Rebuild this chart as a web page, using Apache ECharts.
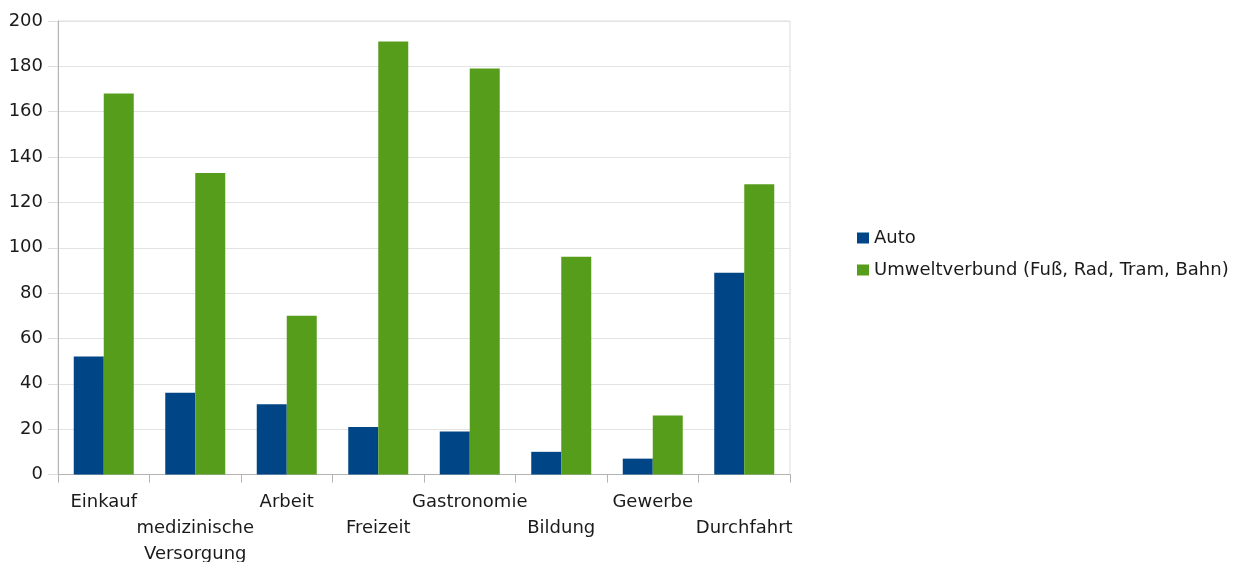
<!DOCTYPE html>
<html>
<head>
<meta charset="utf-8">
<script src="https://cdn.jsdelivr.net/npm/echarts@6/dist/echarts.min.js"></script>
<style>
  html, body { margin: 0; padding: 0; background: #fff; }
  #chart { width: 1246px; height: 562px; }
</style>
</head>
<body>
<div id="chart"></div>
<script>
// Wege nach Zweck und Verkehrsmittel
const categories = ['Einkauf', 'medizinische\nVersorgung', 'Arbeit', 'Freizeit', 'Gastronomie', 'Bildung', 'Gewerbe', 'Durchfahrt'];
const seriesNames = ['Auto', 'Umweltverbund (Fuß, Rad, Tram, Bahn)'];
const autoValues = [52, 36, 31, 21, 19, 10, 7, 89];
const umweltValues = [168, 133, 70, 191, 179, 96, 26, 128];
const yTicks = [0, 20, 40, 60, 80, 100, 120, 140, 160, 180, 200];

const font = '"DejaVu Sans", "Liberation Sans", Arial, sans-serif';
const textColor = '#1a1a1a';

const chart = echarts.init(document.getElementById('chart'), null, { renderer: 'canvas' });

chart.setOption({
  animation: false,
  backgroundColor: '#ffffff',
  grid: {
    left: 58, right: 456, top: 21, bottom: 87.5,
    containLabel: false,
    outerBoundsMode: 'none',
    show: true, borderColor: '#dcdcdc', borderWidth: 1
  },
  legend: {
    orient: 'vertical',
    left: 852, top: 224,
    itemWidth: 12, itemHeight: 11, itemGap: 14,
    icon: 'rect',
    textStyle: { fontFamily: font, fontSize: 18, color: textColor },
    data: seriesNames
  },
  xAxis: {
    type: 'category',
    data: categories,
    boundaryGap: true,
    axisLine: { show: true, lineStyle: { color: '#b3b3b3', width: 1 } },
    axisTick: { show: true, length: 8, lineStyle: { color: '#b3b3b3' } },
    axisLabel: {
      interval: 0,
      margin: 15,
      fontFamily: font, fontSize: 18, color: textColor,
      lineHeight: 26,
      // alternate labels between two rows
      formatter: (v, i) => (i % 2 === 1 ? '\n' + v : v)
    },
    splitLine: { show: false }
  },
  yAxis: {
    type: 'value',
    min: yTicks[0], max: yTicks[yTicks.length - 1], interval: 20,
    axisLine: { show: true, lineStyle: { color: '#b3b3b3', width: 1 } },
    axisTick: { show: true, length: 10, lineStyle: { color: '#dcdcdc' } },
    axisLabel: { margin: 15, fontFamily: font, fontSize: 18, color: textColor },
    splitLine: { show: true, lineStyle: { color: '#e3e3e3', width: 1 } }
  },
  series: [
    {
      name: seriesNames[0], type: 'bar', data: autoValues,
      barWidth: 30, barGap: '0%',
      itemStyle: { color: '#004586' }
    },
    {
      name: seriesNames[1], type: 'bar', data: umweltValues,
      barWidth: 30, barGap: '0%',
      itemStyle: { color: '#579d1c' }
    }
  ]
});
</script>
</body>
</html>
